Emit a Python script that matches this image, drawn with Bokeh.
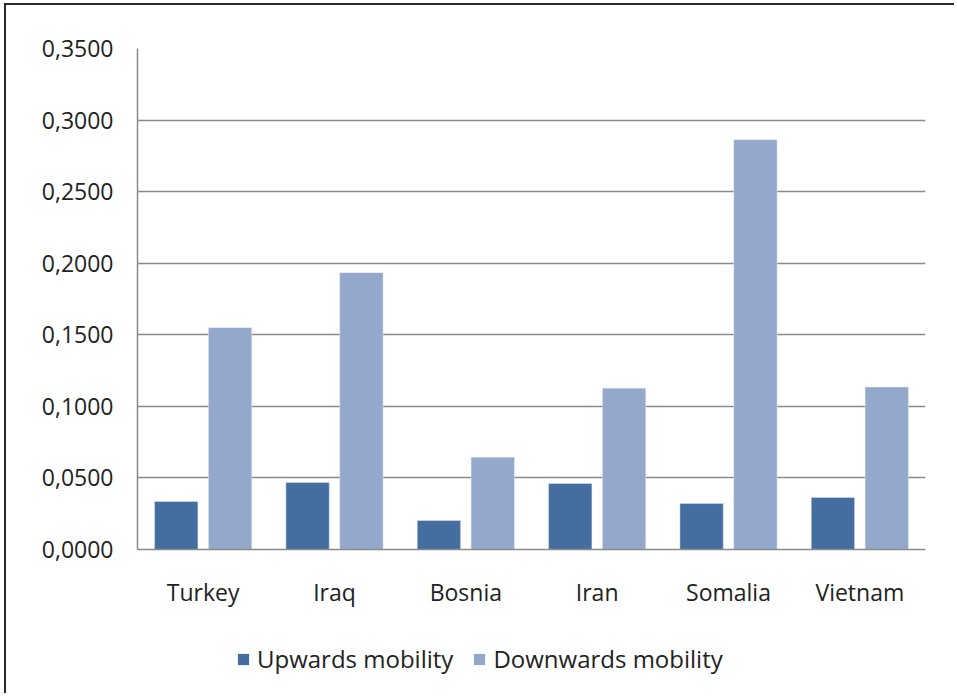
from bokeh.plotting import figure
from bokeh.layouts import column
from bokeh.models import (ColumnDataSource, FactorRange, Range1d, Legend, LegendItem,
                          CustomJSTickFormatter, FixedTicker)
from bokeh.transform import dodge
from bokeh.embed import file_html
from bokeh.resources import INLINE

countries = ["Turkey", "Iraq", "Bosnia", "Iran", "Somalia", "Vietnam"]
upwards = [0.0335, 0.0468, 0.0203, 0.0461, 0.0321, 0.0363]
downwards = [0.1550, 0.1934, 0.0645, 0.1127, 0.2863, 0.1135]
y_ticks = [0.0, 0.05, 0.10, 0.15, 0.20, 0.25, 0.30, 0.35]
series_names = ["Upwards mobility", "Downwards mobility"]
colors = ["#436E9F", "#93A8CA"]

src = ColumnDataSource(dict(country=countries, up=upwards, down=downwards))

FONT = "Open Sans"
FS = "23px"
TXT = "#222222"
W = 948
p = figure(width=W, height=622, x_range=FactorRange(*countries, range_padding=0),
           y_range=Range1d(0, 0.35), output_backend="svg", toolbar_location=None,
           min_border_left=131, min_border_right=W - 919, min_border_top=43, min_border_bottom=78)
p.outline_line_color = None

r1 = p.vbar(x=dodge("country", -0.205, range=p.x_range), top="up", width=0.33, source=src,
            fill_color=colors[0], line_color="#dfe6ef", line_width=0.5)
r2 = p.vbar(x=dodge("country", 0.205, range=p.x_range), top="down", width=0.33, source=src,
            fill_color=colors[1], line_color="#e4e9f1", line_width=0.5)

p.xgrid.grid_line_color = None
p.ygrid.grid_line_color = "#8a8a8a"
p.ygrid.grid_line_width = 1.5
p.yaxis.ticker = FixedTicker(ticks=y_ticks)
p.yaxis.formatter = CustomJSTickFormatter(code="return tick.toFixed(4).replace('.', ',');")
for ax in (p.xaxis[0], p.yaxis[0]):
    ax.axis_line_color = "#8a8a8a"
    ax.axis_line_width = 1.5
    ax.major_tick_line_color = None
    ax.minor_tick_line_color = None
    ax.major_label_text_font = FONT
    ax.major_label_text_font_size = FS
    ax.major_label_text_color = TXT
p.yaxis.major_label_standoff = 18
p.xaxis.major_label_standoff = 20

# legend strip below the chart (series drawn again but clipped out of view,
# only to supply legend swatches)
lf = figure(width=W, height=66, x_range=p.x_range, y_range=Range1d(1, 2),
            output_backend="svg", toolbar_location=None,
            min_border_left=0, min_border_right=0, min_border_top=0, min_border_bottom=0)
lf.axis.visible = False
lf.grid.visible = False
lf.outline_line_color = None
d1 = lf.vbar(x=dodge("country", -0.205, range=lf.x_range), top="up", width=0.33, source=src,
             fill_color=colors[0], line_color=None)
d2 = lf.vbar(x=dodge("country", 0.205, range=lf.x_range), top="down", width=0.33, source=src,
             fill_color=colors[1], line_color=None)
legend = Legend(items=[LegendItem(label=series_names[0], renderers=[d1]),
                       LegendItem(label=series_names[1], renderers=[d2])],
                orientation="horizontal", location=(99, 18),
                label_text_font=FONT, label_text_font_size="24px", label_text_color=TXT,
                glyph_width=14, glyph_height=14, spacing=19, label_standoff=7,
                border_line_color=None, background_fill_alpha=0, margin=0, padding=0)
lf.add_layout(legend, "center")

layout = column(p, lf, spacing=0)
layout.styles = {"border-top": "2px solid #2b2b2b", "border-left": "2px solid #2b2b2b",
                 "margin-left": "4px", "margin-top": "3px"}

open("out.html", "w").write(file_html(layout, INLINE))
